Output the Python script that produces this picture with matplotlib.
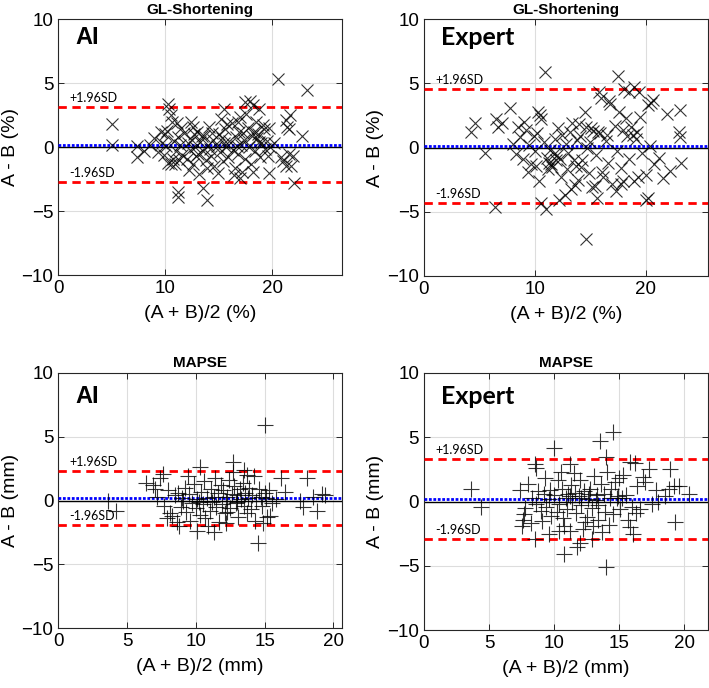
import numpy as np
import matplotlib
matplotlib.use("Agg")
import matplotlib.pyplot as plt
import matplotlib.transforms as mtransforms

plt.rcParams['font.family'] = ['Liberation Sans', 'DejaVu Sans']

# GL-Shortening, AI vs reference: (mean, difference)
gl_ai = np.array([
    (5.0, 1.8), (5.0, 0.2), (7.4, 0.1), (7.4, -0.8), (8.0, -0.3), (8.6, 0.2), (9.0, 0.7), (9.3, -0.4), (9.6, 1.2),
    (10.3, 3.4), (10.4, 3.0), (10.5, 2.5), (10.6, 2.0), (10.2, 1.3), (10.0, 1.0), (10.3, -1.2), (10.5, -1.3),
    (11.2, -3.5), (11.2, -3.9), (13.5, -3.2), (13.9, -4.1), (12.6, 1.6), (15.5, 3.0), (17.5, 3.5), (17.9, 3.6),
    (18.2, 3.3), (18.8, 3.0), (17.0, 2.4), (16.8, 2.0), (19.7, 1.5), (19.7, -2.0), (20.5, 5.3), (23.3, 4.5),
    (22.8, 0.9), (21.4, 1.6), (21.3, 2.1), (21.7, 2.5), (21.6, 1.4), (21.6, -0.5), (21.0, -1.1), (21.3, -1.5),
    (21.8, -1.5), (22.0, -2.8), (20.8, -0.8), (21.9, -0.7), (20.2, 0.3),
    (10.8, 0.5), (11.0, -0.3), (11.2, 0.8), (11.4, 0.2), (11.6, -0.6), (11.8, 1.1), (12.0, -0.9), (12.1, 0.3),
    (12.3, -0.2), (12.5, 0.6), (12.6, -1.3), (12.8, 0.0), (13.0, 1.2), (13.1, -0.5), (13.3, 0.4), (13.5, -0.3),
    (13.6, 0.9), (13.8, -1.0), (14.0, 0.2), (14.1, 1.6), (14.3, -0.7), (14.5, 0.6), (14.6, -1.5), (14.8, 0.1),
    (15.0, 1.0), (15.1, -0.4), (15.3, 0.7), (15.4, -1.1), (15.6, 1.4), (15.7, 0.0), (15.9, -0.8), (16.0, 0.5),
    (16.2, 1.9), (16.3, -0.2), (16.5, -1.6), (16.6, 0.8), (16.8, -0.5), (16.9, 1.2), (17.1, 0.2), (17.2, -1.9),
    (17.4, 0.6), (17.5, -0.9), (17.7, 1.5), (17.8, 0.0), (18.0, -1.3), (18.1, 0.9), (18.3, 1.2), (18.4, -0.3),
    (18.6, 0.7), (18.7, 1.0), (18.9, -0.8), (19.0, 0.3), (19.2, 1.4), (19.3, -0.1), (19.5, 0.5), (19.6, -0.7),
    (9.7, 0.3), (9.9, -0.6), (10.1, 0.1), (10.7, -0.9), (11.5, 1.5), (12.2, -1.8), (12.7, 1.0), (13.2, -2.1),
    (13.9, -1.6), (14.4, 1.1), (14.9, -2.0), (15.2, 2.2), (15.8, 1.8), (16.4, -2.2), (17.0, -2.4), (17.6, 2.6),
    (18.2, -1.9), (18.5, 2.0), (19.1, 1.7), (11.1, 1.9), (12.4, 2.0), (13.4, 0.9), (14.2, -0.1), (15.5, 0.3),
    (16.7, 0.1), (17.3, 1.1), (18.8, 0.4), (19.8, 0.0), (12.9, -0.7), (11.3, -1.0), (10.9, -1.3),
])

# GL-Shortening, expert vs reference
gl_expert = np.array([
    (4.2, 1.2), (4.6, 1.9), (5.5, -0.45), (6.5, 2.2), (6.7, 1.6), (7.0, 1.9), (7.8, 3.1), (6.4, -4.6),
    (10.9, 5.9), (14.6, -7.1), (17.5, 5.6), (18.1, 4.6), (19.0, 4.7), (18.5, 4.3), (20.7, 3.7), (20.2, 3.3),
    (20.5, 3.5), (23.1, 2.9), (23.1, 0.8), (23.0, 1.2), (21.9, 2.6), (23.2, -1.2), (22.2, -1.8), (21.6, -2.4),
    (20.0, -4.1), (20.2, -3.9), (17.8, -2.8), (18.0, -2.6), (11.0, -4.8), (10.6, -4.3), (12.2, -4.1), (13.3, -3.2),
    (12.7, -3.7), (13.6, -2.9), (15.6, -3.9), (15.2, -3.1), (10.2, 1.1), (10.3, 2.8), (10.5, 2.5), (10.6, 2.2),
    (11.1, -0.8), (11.5, -1.3), (11.2, -1.7), (11.7, -0.5), (11.9, -1.0), (11.4, -0.2), (12.0, -0.6), (11.3, -1.2),
    (11.6, -1.5), (12.3, -0.9), (8.0, 0.3), (8.3, -0.5), (8.7, 0.8), (8.9, -0.9), (9.2, 1.4), (9.5, 0.2),
    (9.7, -1.3), (9.9, 0.9), (10.0, -0.3), (10.4, -2.6), (10.8, 0.4), (12.5, 1.0), (12.8, 0.3), (13.0, -0.4),
    (13.2, 1.2), (13.5, -1.0), (13.8, 0.6), (14.0, 1.8), (14.2, -1.5), (14.5, 2.8), (14.7, 0.0), (14.9, -2.0),
    (15.1, 1.5), (15.3, 1.3), (15.5, -0.6), (15.7, 1.2), (15.9, 1.1), (16.0, 3.9), (16.2, -2.3), (16.4, 0.5),
    (16.6, -1.2), (16.8, 3.4), (17.0, -2.8), (17.2, 1.7), (17.4, -0.3), (17.6, 2.8), (17.8, -1.6), (18.0, 1.4),
    (18.3, 0.9), (18.5, -0.9), (18.7, 1.6), (18.9, 1.0), (19.1, 0.7), (19.3, -2.3), (19.5, 2.4), (19.2, 1.2),
    (19.7, -0.4), (20.0, -2.1), (20.4, 0.1), (20.8, -1.3), (21.2, -0.8), (16.1, -1.9), (15.4, -3.0), (14.3, -1.0),
    (13.9, -2.5), (12.9, -1.7), (12.1, 1.5), (14.6, 1.6), (16.5, 1.0), (17.3, -3.4), (18.2, 2.3), (19.0, -2.6),
    (15.8, 4.3), (16.7, 3.6), (19.4, 4.3), (14.1, 0.9), (13.4, 1.9), (9.4, -1.9), (8.5, 1.6), (9.0, 2.0),
    (10.1, -1.4), (11.8, 0.7), (12.4, -2.3), (13.7, -1.4), (15.0, 0.4),
])

# MAPSE, AI vs reference
mapse_ai = np.array([
    (15.0, 5.9), (12.7, 3.0), (10.3, 2.6), (14.5, -3.3), (3.6, 0.0), (4.2, -0.8), (6.4, 1.4), (6.9, 1.2),
    (7.6, 2.1), (7.4, 1.8), (16.2, 1.8), (16.5, 0.7), (18.1, 1.8), (17.6, 0.0), (17.8, -0.5), (18.8, -0.8),
    (19.2, 0.5), (19.4, 0.4), (18.5, 0.3), (10.1, -2.4), (11.3, -2.5), (12.2, -1.8), (13.7, -1.0), (14.9, -1.8),
    (15.2, -1.3), (15.4, -1.2), (8.8, -2.0), (8.1, -1.0), (7.9, -1.4),
    (7.2, 0.3), (7.7, -0.4), (8.0, 0.8), (8.3, -1.2), (8.5, 0.4), (8.7, 0.6), (8.9, -0.5), (9.0, 0.2),
    (9.2, 1.0), (9.3, -0.9), (9.5, 0.5), (9.6, -1.6), (9.7, -0.2), (9.9, 1.3), (10.0, -0.6), (10.1, 0.1),
    (10.3, -1.1), (10.4, 0.7), (10.5, -0.3), (10.6, 1.5), (10.7, -1.4), (10.8, 0.2), (11.0, -0.8), (11.1, 0.9),
    (11.2, -0.1), (11.4, 1.8), (11.5, -0.5), (11.6, 0.6), (11.8, 1.2), (11.9, -0.3), (12.0, 0.8), (12.1, -1.0),
    (12.3, 0.3), (12.4, 1.6), (12.5, -0.6), (12.6, 0.5), (12.8, 1.1), (12.9, -0.2), (13.0, 0.4), (13.1, -1.3),
    (13.2, 0.9), (13.3, 0.1), (13.4, 1.4), (13.5, -0.4), (13.6, 0.6), (13.8, 0.2), (13.9, 1.0), (14.0, -0.7),
    (14.1, 0.4), (14.2, 1.9), (14.4, 0.0), (14.6, 0.9), (14.8, -0.4), (15.0, 0.6), (15.1, 0.2), (15.3, 0.8),
    (15.5, -0.2), (15.8, 0.1), (9.4, 1.9), (8.6, -1.7), (10.9, -2.0), (11.7, -1.7), (12.7, 2.2), (13.7, 2.0),
    (14.3, -1.6), (9.1, 0.0), (10.2, -0.1), (11.3, 0.3), (12.2, 0.0), (13.0, -0.1), (14.7, 0.3), (7.0, 0.9),
    (12.3, -0.9), (13.5, 2.4),
])

# MAPSE, expert vs reference
mapse_expert = np.array([
    (3.6, 1.0), (4.4, -0.4), (14.5, 5.4), (13.5, 4.7), (10.0, 4.2), (14.0, -5.1), (10.8, -4.1), (12.0, -3.2),
    (11.8, -3.5), (11.2, -2.3), (10.4, -2.3), (8.5, -2.9), (8.2, -1.7), (7.6, -1.4), (7.5, -1.9), (8.5, 2.9),
    (8.6, 2.6), (11.2, 2.9), (10.5, 2.3), (14.0, 3.5), (15.8, 3.1), (16.2, 3.0), (17.3, 2.5), (16.8, 1.9),
    (18.9, 2.5), (19.2, 1.2), (19.6, 1.2), (20.4, 0.6), (19.3, -1.6), (18.5, 0.4), (18.0, 0.0), (15.8, -2.0),
    (16.1, -2.5), (16.6, -0.6), (16.0, -0.4), (13.4, -1.4), (12.5, -1.2), (13.7, -2.4), (14.2, -1.8), (12.9, -2.9),
    (9.6, -2.5),
    (7.4, 0.9), (7.8, -0.5), (8.0, 1.4), (8.3, 0.3), (8.8, 0.8), (9.0, -0.7), (9.2, 0.6), (9.4, -0.4),
    (9.6, 0.2), (9.8, -1.1), (10.0, 0.5), (10.2, -0.8), (10.4, -0.2), (10.6, 1.0), (10.7, -1.3), (10.9, 0.3),
    (11.0, -0.6), (11.1, 0.6), (11.3, 1.3), (11.4, 0.0), (11.6, 0.7), (11.7, -0.9), (11.9, 0.4), (12.0, 1.7),
    (12.1, -0.3), (12.3, 0.8), (12.4, -1.6), (12.6, 0.2), (12.8, 1.0), (12.9, -0.5), (13.1, 2.0), (13.2, 0.1),
    (13.4, -0.3), (13.6, 1.4), (13.8, 0.6), (13.9, -0.8), (14.1, 2.3), (14.3, 0.3), (14.5, -1.0), (14.7, 1.5),
    (14.9, 0.4), (15.1, -0.6), (15.3, 2.1), (15.5, 0.5), (15.7, -1.4), (16.4, 1.2), (17.0, 1.5), (17.5, -0.2),
    (18.8, 1.0), (8.6, -0.2), (9.3, 1.8), (10.3, 1.7), (11.5, 2.2), (12.2, -2.1), (13.0, -1.9), (14.4, 1.0),
    (15.0, 1.8), (10.8, -1.9), (12.7, 0.6), (13.3, 0.5), (9.7, 0.9), (11.2, 0.4), (12.1, 0.3), (14.8, 0.3),
    (15.2, 0.3), (7.7, -1.0), (9.1, -1.5), (16.3, -0.9), (17.8, 0.9),
])

# bias and limits of agreement (mean, +1.96SD, -1.96SD)
gl_ai_lines = [0.2, 3.15, -2.7]
gl_expert_lines = [0.1, 4.55, -4.3]
mapse_ai_lines = [0.2, 2.3, -1.9]
mapse_expert_lines = [0.2, 3.3, -2.9]

fig = plt.figure(figsize=(7.09, 6.88), dpi=100)

panels = [
    # data, lines, title, tag, xmax, xticks, xlabel, ylabel, marker, rect
    (gl_ai, gl_ai_lines, 'GL-Shortening', 'AI', 26.5, [0, 10, 20], '(A + B)/2 (%)', 'A - B (%)', 'x',
     [0.082, 0.600, 0.400, 0.372]),
    (gl_expert, gl_expert_lines, 'GL-Shortening', 'Expert', 25.6, [0, 10, 20], '(A + B)/2 (%)', 'A - B (%)', 'x',
     [0.598, 0.599, 0.400, 0.373]),
    (mapse_ai, mapse_ai_lines, 'MAPSE', 'AI', 20.6, [0, 5, 10, 15, 20], '(A + B)/2 (mm)', 'A - B (mm)', '+',
     [0.082, 0.087, 0.400, 0.371]),
    (mapse_expert, mapse_expert_lines, 'MAPSE', 'Expert', 21.8, [0, 5, 10, 15, 20], '(A + B)/2 (mm)', 'A - B (mm)', '+',
     [0.598, 0.084, 0.400, 0.374]),
]

for data, lines, title, tag, xmax, xticks, xlabel, ylabel, marker, rect in panels:
    ax = fig.add_axes(rect)
    ax.set_xlim(0, xmax)
    ax.set_ylim(-10, 10)
    ax.set_xticks(xticks)
    ax.set_yticks([-10, -5, 0, 5, 10])
    ax.grid(True, color='#dddddd', linewidth=0.8)
    ax.set_axisbelow(True)
    ax.tick_params(direction='in', top=True, right=True, labelsize=13.5, length=4, width=0.7, color='#262626')
    for s in ax.spines.values():
        s.set_linewidth(0.8)
        s.set_color('#262626')

    ax.axhline(0, color='black', lw=1.0, zorder=2)
    ax.axhline(lines[0], color='#0000ff', lw=2.0, dashes=(1, 0.6), zorder=3)
    ax.axhline(lines[1], color='#ff0000', lw=2.0, dashes=(3, 2), zorder=3)
    ax.axhline(lines[2], color='#ff0000', lw=2.0, dashes=(3, 2), zorder=3)

    ms = 9 if marker == 'x' else 11
    ax.plot(data[:, 0], data[:, 1], linestyle='none', marker=marker, markersize=ms,
            markeredgewidth=0.8, color='black', alpha=0.8, zorder=4)

    trans = mtransforms.blended_transform_factory(ax.transAxes, ax.transData)
    ax.text(0.04, lines[1] + 0.25, '+1.96SD', transform=trans, fontsize=9, family='Lato', va='bottom')
    ax.text(0.04, lines[2] + 0.25, '-1.96SD', transform=trans, fontsize=9, family='Lato', va='bottom')

    ty = 0.93 if title == 'GL-Shortening' else 0.907
    if tag == 'AI':
        ax.text(0.06, ty, tag, transform=ax.transAxes, fontsize=17, fontweight='bold', va='center')
    else:
        ax.text(0.06, ty, tag, transform=ax.transAxes, fontsize=18, fontweight='bold', family='Lato', va='center')

    ax.set_title(title, fontsize=11, fontweight='bold', pad=4)
    ax.set_xlabel(xlabel, fontsize=14, labelpad=6)
    ax.set_ylabel(ylabel, fontsize=14, labelpad=2)

fig.savefig('out.png', dpi=100)
